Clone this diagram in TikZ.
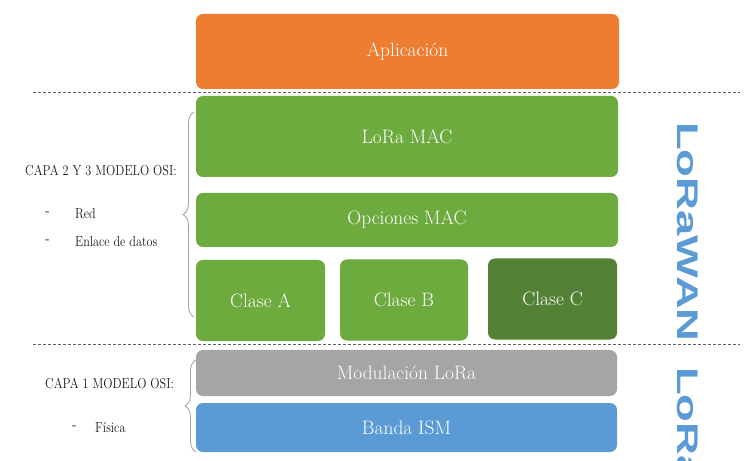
\documentclass[tikz,border=0pt]{standalone}
\usepackage{fontspec}
\usetikzlibrary{decorations.pathreplacing}
\newfontfamily\logofont{Liberation Sans}
\definecolor{corange}{HTML}{ED7D31}
\definecolor{cgreen}{HTML}{6DAB3F}
\definecolor{cdgreen}{HTML}{538135}
\definecolor{cgray}{HTML}{A5A5A5}
\definecolor{cblue}{HTML}{5B9BD5}
\definecolor{cdash}{HTML}{5A6070}
\definecolor{clogo}{HTML}{5B9BD5}
\newcommand{\narrowtext}[1]{\scalebox{0.84}[1]{#1}}
\begin{document}
\begin{tikzpicture}[x=1bp,y=-1bp,
  layer/.style={rounded corners=7bp,draw=none,text=white,inner sep=0pt,
    font=\fontsize{19.5}{22}\selectfont},
  sep/.style={draw=cdash,dash pattern=on 3bp off 2bp,line width=0.9bp},
  bracestyle/.style={draw=gray!75,line width=0.8bp,
    decorate,decoration={brace,amplitude=11bp,aspect=0.5}},
  lbl/.style={anchor=west,inner sep=0pt,text=black!90,font=\fontsize{14.5}{16}\selectfont},
  logo/.style={text=clogo,inner sep=0pt,rotate=-90,font=\logofont\bfseries\fontsize{30}{30}\selectfont}]
\useasboundingbox[fill=white] (0,0) rectangle (755,461);

\node[layer,fill=corange,minimum width=423bp,minimum height=75bp] (app) at (407.5,51.5) {Aplicación};
\node[layer,fill=cgreen,minimum width=422bp,minimum height=81bp] (mac) at (407,136.5) {LoRa MAC};
\node[layer,fill=cgreen,minimum width=422bp,minimum height=54bp] (opt) at (407,220) {Opciones MAC};
\node[layer,fill=cgreen,minimum width=129bp,minimum height=81bp] (ca) at (260.5,300.5) {Clase A};
\node[layer,fill=cgreen,minimum width=128bp,minimum height=81bp] (cb) at (404,300) {Clase B};
\node[layer,fill=cdgreen,minimum width=129bp,minimum height=81bp] (cc) at (552.5,299) {Clase C};
\node[layer,fill=cgray,minimum width=421bp,minimum height=46bp] (mod) at (406.5,373) {Modulación LoRa};
\node[layer,fill=cblue,minimum width=421bp,minimum height=49bp] (ism) at (406.5,427.5) {Banda ISM};

\coordinate (d1a) at (33,92);
\coordinate (d1b) at (740,92);
\coordinate (d2a) at (33,344.5);
\coordinate (d2b) at (740,344.5);
\draw[sep] (d1a) -- (d1b);
\draw[sep] (d2a) -- (d2b);

\coordinate (b1s) at (194,317);
\coordinate (b1e) at (194,112);
\coordinate (b2s) at (196,452);
\coordinate (b2e) at (196,360);
\draw[bracestyle] (b1s) -- (b1e);
\draw[bracestyle] (b2s) -- (b2e);

\node[lbl] (capa23) at (25,170) {\narrowtext{CAPA 2 Y 3 MODELO OSI:}};
\node[lbl] (d1) at (45,214) {-};
\node[lbl] (red) at (75,214) {\narrowtext{Red}};
\node[lbl] (d2) at (45,242) {-};
\node[lbl] (enl) at (75,242) {\narrowtext{Enlace de datos}};
\node[lbl] (capa1) at (45,383) {\narrowtext{CAPA 1 MODELO OSI:}};
\node[lbl] (d3) at (72,428) {-};
\node[lbl] (fis) at (95,428) {\narrowtext{Física}};

\node[logo,anchor=west] (lorawan) at (688,122) {\scalebox{1.52}[1]{LoRaWAN}};
\node[logo,anchor=west] (lora) at (688,367) {\scalebox{1.52}[1]{LoRa}};
\end{tikzpicture}
\end{document}
